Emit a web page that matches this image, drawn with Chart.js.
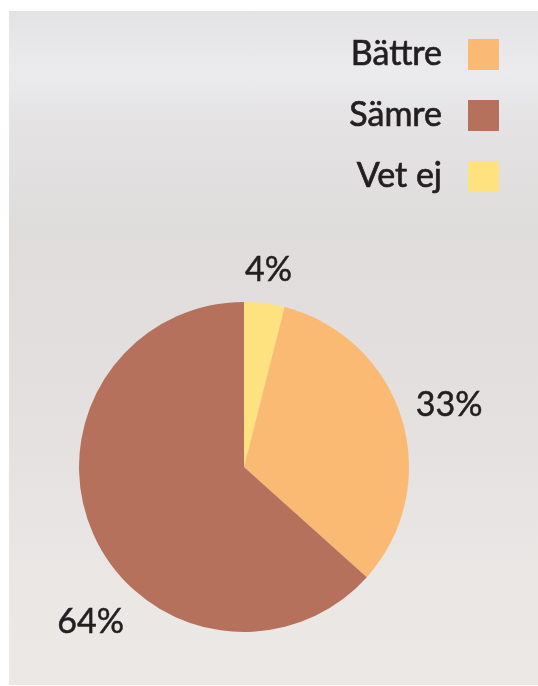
<!DOCTYPE html>
<html>
<head>
<meta charset="utf-8">
<script src="https://cdn.jsdelivr.net/npm/chart.js@4"></script>
<style>
    html, body { margin: 0; padding: 0; background: #ffffff; }
    #wrap { position: relative; width: 538px; height: 686px; }
    #panel {
        position: absolute; left: 9px; top: 11px; width: 529px; height: 674px;
        background: linear-gradient(180deg, #e3e3e6 0%, #ebebed 9%, #e4e2e3 17%, #dfdcdc 32%, #e4e0df 60%, #ebe7e5 85%, #ece8e6 100%);
    }
    #chart { position: absolute; left: 0; top: 0; }
</style>
</head>
<body>
<div id="wrap">
    <div id="panel"></div>
    <canvas id="chart" width="538" height="686"></canvas>
</div>
<script>
// Slices, clockwise from 12 o'clock
const categories = ['Vet ej', 'Bättre', 'Sämre'];
const shares = [4, 33, 64];
const sliceColors = ['#fee27f', '#fbba74', '#b6715d'];
// Legend is listed in a different order than the slices
const legendOrder = ['Bättre', 'Sämre', 'Vet ej'];

const textFont = 'Lato, "Open Sans", sans-serif';
const textColor = '#231f20';

// a thin stroke makes the text a bit heavier, like the original
function heavyText(ctx, str, x, y) {
    ctx.fillText(str, x, y);
    ctx.strokeText(str, x, y);
}

// Draws the right-aligned legend with the swatch on the right
const sideLegend = {
    id: 'sideLegend',
    afterDraw(chart) {
        const ctx = chart.ctx;
        const ds = chart.data.datasets[0];
        ctx.save();
        ctx.font = '34px ' + textFont;
        ctx.textAlign = 'right';
        ctx.textBaseline = 'alphabetic';
        ctx.lineWidth = 0.7;
        ctx.strokeStyle = textColor;
        legendOrder.forEach((name, i) => {
            const idx = chart.data.labels.indexOf(name);
            const y = 39 + i * 61;
            ctx.fillStyle = ds.backgroundColor[idx];
            ctx.fillRect(468, y, 31, 31);
            ctx.fillStyle = textColor;
            heavyText(ctx, name, 442, y + 26);
        });
        ctx.restore();
    }
};

// Percentage labels placed outside the slices
const outsideLabels = {
    id: 'outsideLabels',
    afterDraw(chart, args, opts) {
        const ctx = chart.ctx;
        const meta = chart.getDatasetMeta(0);
        ctx.save();
        ctx.font = '34px ' + textFont;
        ctx.fillStyle = textColor;
        ctx.strokeStyle = textColor;
        ctx.lineWidth = 0.5;
        ctx.textAlign = 'center';
        ctx.textBaseline = 'middle';
        meta.data.forEach((arc, i) => {
            const p = arc.getProps(['x', 'y', 'startAngle', 'endAngle', 'outerRadius'], true);
            const mid = (p.startAngle + p.endAngle) / 2 + (opts.angleShift[i] || 0);
            const r = p.outerRadius * opts.distance[i];
            const x = p.x + Math.cos(mid) * r;
            const y = p.y + Math.sin(mid) * r;
            heavyText(ctx, chart.data.datasets[0].data[i] + '%', x, y);
        });
        ctx.restore();
    }
};

new Chart(document.getElementById('chart').getContext('2d'), {
    type: 'pie',
    data: {
        labels: categories,
        datasets: [{
            data: shares,
            backgroundColor: sliceColors,
            borderWidth: 0
        }]
    },
    options: {
        responsive: false,
        animation: false,
        layout: { padding: { left: 79, right: 129, top: 302, bottom: 54 } },
        plugins: {
            legend: { display: false },
            tooltip: { enabled: false },
            outsideLabels: {
                distance: [1.2, 1.3, 1.32],
                angleShift: [0, 0, -0.37]
            }
        }
    },
    plugins: [sideLegend, outsideLabels]
});
</script>
</body>
</html>
